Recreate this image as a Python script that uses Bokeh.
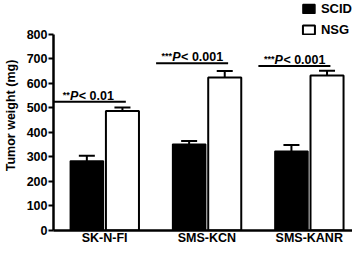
from bokeh.plotting import figure
from bokeh.models import (Range1d, FixedTicker, Whisker, TeeHead,
                          ColumnDataSource, Legend, LegendItem)
from bokeh.transform import dodge
from bokeh.core.properties import value
from bokeh.embed import file_html
from bokeh.resources import INLINE

# ---- data ----
cell_lines = ["SK-N-FI", "SMS-KCN", "SMS-KANR"]
scid_mean = [283, 352, 323]
scid_err = [22, 13, 26]
nsg_mean = [487, 624, 632]
nsg_err = [15, 26, 19]
sig_stars = ["**", "***", "***"]
sig_p_text = ["< 0.01", "< 0.001", "< 0.001"]
sig_y = [525, 682, 671]
y_ticks = [0, 100, 200, 300, 400, 500, 600, 700, 800]

FONT = "Liberation Sans"
idx = list(range(len(cell_lines)))

src = ColumnDataSource(dict(
    x=idx,
    scid=scid_mean,
    scid_top=[m + e for m, e in zip(scid_mean, scid_err)],
    nsg=nsg_mean,
    nsg_top=[m + e for m, e in zip(nsg_mean, nsg_err)],
    sig_y=sig_y,
    stars=sig_stars,
    ptxt=sig_p_text,
    P=["P"] * len(cell_lines),
))

p = figure(x_range=Range1d(-0.5, 2.423),
           y_range=Range1d(0, 938),
           width=352, height=247,
           output_backend="svg", toolbar_location=None,
           min_border_left=0, min_border_right=0,
           min_border_top=0, min_border_bottom=0)

off = 0.174
bw = 0.323
r_scid = p.vbar(x=dodge("x", -off), top="scid", bottom=0,
                width=bw, source=src, fill_color="black", line_color="black",
                line_width=1.5)
r_nsg = p.vbar(x=dodge("x", off), top="nsg", bottom=0,
               width=bw, source=src, fill_color="white", line_color="black",
               line_width=2)

for o, lo, hi in [(-off, "scid", "scid_top"), (off, "nsg", "nsg_top")]:
    w = Whisker(source=src, base=dodge("x", o),
                lower=lo, upper=hi, line_color="black", line_width=2,
                upper_head=TeeHead(size=16, line_color="black", line_width=2),
                lower_head=None)
    p.add_layout(w)

# significance brackets
c = -0.145
hw = 0.352
p.segment(x0=dodge("x", c - hw), x1=dodge("x", c + hw),
          y0="sig_y", y1="sig_y", source=src, line_color="black", line_width=2)
ax = -11
p.text(x=dodge("x", c), y="sig_y", text="ptxt", source=src,
       x_offset=ax, y_offset=-6, text_align="left", text_baseline="alphabetic",
       text_font=value(FONT), text_font_style="bold", text_font_size="12.5px",
       text_color="black")
p.text(x=dodge("x", c), y="sig_y", text="P", source=src,
       x_offset=ax - 0.5, y_offset=-6, text_align="right", text_baseline="alphabetic",
       text_font=value(FONT), text_font_style="bold italic", text_font_size="12.5px",
       text_color="black")
p.text(x=dodge("x", c), y="sig_y", text="stars", source=src,
       x_offset=ax - 9, y_offset=-7, text_align="right", text_baseline="alphabetic",
       text_font=value(FONT), text_font_style="bold", text_font_size="9px",
       text_color="black")

# axes
p.xgrid.visible = False
p.ygrid.visible = False
p.outline_line_color = None

xa = p.xaxis[0]
xa.ticker = FixedTicker(ticks=idx)
xa.major_label_overrides = {i: name for i, name in zip(idx, cell_lines)}
xa.axis_label = None
xa.axis_line_width = 2.5
xa.axis_line_color = "black"
xa.major_tick_out = 0
xa.major_tick_in = 0
xa.major_tick_line_color = None
xa.minor_tick_line_color = None
xa.minor_tick_out = 0
xa.minor_tick_in = 0
xa.major_label_standoff = 0
xa.major_label_text_font = FONT
xa.major_label_text_font_style = "bold"
xa.major_label_text_font_size = "12.5px"
xa.major_label_text_color = "black"

ya = p.yaxis[0]
ya.ticker = FixedTicker(ticks=y_ticks)
ya.bounds = (0, 800)
ya.axis_line_width = 2.5
ya.axis_line_color = "black"
ya.major_tick_out = 5
ya.major_tick_in = 0
ya.major_tick_line_width = 2
ya.major_tick_line_color = "black"
ya.minor_tick_line_color = None
ya.minor_tick_out = 0
ya.minor_tick_in = 0
ya.major_label_standoff = 1
ya.major_label_text_font = FONT
ya.major_label_text_font_style = "bold"
ya.major_label_text_font_size = "12.5px"
ya.major_label_text_color = "black"
ya.axis_label = "Tumor weight (mg)"
ya.axis_label_text_font = FONT
ya.axis_label_text_font_style = "bold"
ya.axis_label_text_font_size = "12.5px"
ya.axis_label_text_color = "black"
ya.axis_label_standoff = 6

legend = Legend(items=[LegendItem(label=value("SCID"), renderers=[r_scid]),
                       LegendItem(label=value("NSG"), renderers=[r_nsg])],
                location="top_right", margin=0, padding=1, spacing=5,
                glyph_width=15, glyph_height=11, label_height=16,
                label_standoff=5, border_line_color=None,
                background_fill_alpha=0,
                label_text_font=FONT, label_text_font_style="bold",
                label_text_font_size="13px", label_text_color="black")
p.add_layout(legend)

open("out.html", "w").write(file_html(p, INLINE))
